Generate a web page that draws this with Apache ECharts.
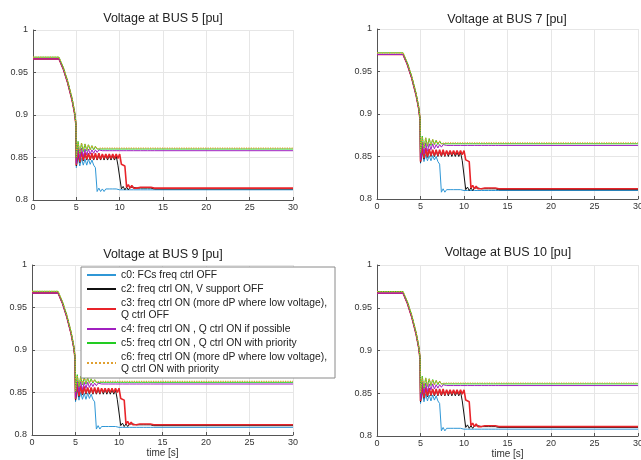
<!DOCTYPE html>
<html>
<head>
<meta charset="utf-8">
<script src="https://cdn.jsdelivr.net/npm/echarts@6/dist/echarts.min.js"></script>
<style>
html,body{margin:0;padding:0;background:#fff;}
#chart{width:641px;height:460px;}
</style>
</head>
<body>
<div id="chart"></div>
<script>
// time axis [s]
const T = [0,3,3.5,4,4.5,4.8,4.95,
5,5.2,5.4,5.6,5.8,6,6.2,6.4,6.6,6.8,
7,7.2,7.4,7.6,7.8,8,8.2,8.4,8.6,8.8,
9,9.2,9.4,9.6,9.8,10,10.2,10.4,10.6,10.8,
11,11.2,11.4,11.6,11.8,12,12.2,12.4,12.6,12.8,
13,13.2,13.4,13.6,13.8,14,
30];

const TITLES = ['Voltage at BUS 5 [pu]','Voltage at BUS 7 [pu]','Voltage at BUS 9 [pu]','Voltage at BUS 10 [pu]'];
const NAMES = [
 'c0: FCs freq ctrl OFF',
 'c2: freq ctrl ON, V support OFF',
 'c3: freq ctrl ON (more dP where low voltage),\nQ ctrl OFF',
 'c4: freq ctrl ON , Q ctrl ON if possible',
 'c5: freq ctrl ON , Q ctrl ON with priority',
 'c6: freq ctrl ON (more dP where low voltage),\nQ ctrl ON with priority'
];
const X_TICKS = [0,5,10,15,20,25,30];
const Y_TICKS = [0.8,0.85,0.9,0.95,1];

// ---------------- BUS 5 ----------------
const v5_c0 = [0.966,0.966,0.954,0.938,0.918,0.902,0.889,
0.838,0.851,0.840,0.849,0.841,0.848,0.841,0.848,0.842,0.847,
0.841,0.838,0.810,0.814,0.810,0.813,0.810,0.813,0.811,0.813,
0.811,0.813,0.811,0.813,0.811,0.812,0.812,0.812,0.812,0.812,
0.812,0.812,0.812,0.812,0.812,0.812,0.812,0.812,0.812,0.812,
0.812,0.812,0.812,0.812,0.812,0.812,
0.812];
const v5_c2 = [0.966,0.966,0.954,0.938,0.918,0.902,0.889,
0.840,0.857,0.844,0.856,0.846,0.855,0.847,0.854,0.847,0.854,
0.847,0.853,0.847,0.853,0.847,0.853,0.847,0.853,0.847,0.852,
0.847,0.852,0.847,0.852,0.841,0.840,0.813,0.816,0.812,0.815,
0.812,0.815,0.813,0.815,0.813,0.814,0.813,0.814,0.813,0.814,
0.813,0.814,0.813,0.814,0.813,0.813,
0.813];
const v5_c3 = [0.966,0.966,0.954,0.938,0.918,0.902,0.889,
0.841,0.859,0.845,0.857,0.847,0.856,0.848,0.855,0.848,0.855,
0.848,0.855,0.848,0.855,0.848,0.854,0.849,0.854,0.849,0.854,
0.849,0.854,0.849,0.854,0.849,0.854,0.842,0.843,0.840,0.815,
0.818,0.814,0.817,0.814,0.816,0.814,0.816,0.815,0.814,0.815,
0.814,0.815,0.814,0.815,0.814,0.814,
0.814];
const v5_c4 = [0.966,0.966,0.954,0.938,0.918,0.902,0.889,
0.843,0.862,0.849,0.861,0.851,0.860,0.853,0.860,0.854,0.859,
0.855,0.859,0.856,0.859,0.857,0.858,0.857,0.858,0.858,0.858,
0.858,0.858,0.858,0.858,0.858,0.858,0.858,0.858,0.858,0.858,
0.858,0.858,0.858,0.858,0.858,0.858,0.858,0.858,0.858,0.858,
0.858,0.858,0.858,0.858,0.858,0.858,
0.858];
const v5_c5 = [0.968,0.968,0.956,0.940,0.920,0.904,0.891,
0.850,0.869,0.855,0.867,0.857,0.866,0.858,0.865,0.859,0.864,
0.859,0.863,0.860,0.862,0.860,0.862,0.860,0.861,0.860,0.861,
0.860,0.860,0.860,0.860,0.860,0.860,0.860,0.860,0.860,0.860,
0.860,0.860,0.860,0.860,0.860,0.860,0.860,0.860,0.860,0.860,
0.860,0.860,0.860,0.860,0.860,0.860,
0.860];
const v5_c6 = [0.968,0.968,0.956,0.940,0.920,0.904,0.891,
0.851,0.868,0.856,0.867,0.858,0.866,0.859,0.865,0.859,0.864,
0.860,0.863,0.860,0.862,0.861,0.862,0.861,0.862,0.861,0.861,
0.861,0.861,0.861,0.861,0.861,0.861,0.861,0.861,0.861,0.861,
0.861,0.861,0.861,0.861,0.861,0.861,0.861,0.861,0.861,0.861,
0.861,0.861,0.861,0.861,0.861,0.861,
0.861];

// ---------------- BUS 7 ----------------
const v7_c0 = [0.970,0.970,0.958,0.942,0.922,0.906,0.893,
0.842,0.854,0.844,0.852,0.845,0.851,0.845,0.851,0.846,0.850,
0.844,0.841,0.808,0.812,0.808,0.811,0.809,0.811,0.809,0.811,
0.809,0.811,0.809,0.811,0.809,0.810,0.810,0.810,0.810,0.810,
0.810,0.810,0.810,0.810,0.810,0.810,0.810,0.810,0.810,0.810,
0.810,0.810,0.810,0.810,0.810,0.810,
0.810];
const v7_c2 = [0.970,0.970,0.958,0.942,0.922,0.906,0.893,
0.843,0.860,0.847,0.859,0.849,0.858,0.850,0.857,0.850,0.857,
0.850,0.856,0.850,0.856,0.850,0.856,0.850,0.856,0.850,0.855,
0.850,0.855,0.850,0.855,0.845,0.844,0.811,0.814,0.810,0.813,
0.810,0.813,0.811,0.813,0.811,0.812,0.811,0.812,0.811,0.812,
0.811,0.812,0.811,0.812,0.811,0.811,
0.811];
const v7_c3 = [0.970,0.970,0.958,0.942,0.922,0.906,0.893,
0.844,0.862,0.848,0.860,0.850,0.859,0.851,0.858,0.851,0.858,
0.851,0.858,0.851,0.858,0.851,0.857,0.852,0.857,0.852,0.857,
0.852,0.857,0.852,0.857,0.852,0.857,0.846,0.847,0.844,0.813,
0.816,0.812,0.815,0.812,0.814,0.812,0.814,0.813,0.812,0.813,
0.812,0.813,0.812,0.813,0.812,0.812,
0.812];
const v7_c4 = [0.970,0.970,0.958,0.942,0.922,0.906,0.893,
0.846,0.867,0.853,0.866,0.856,0.865,0.858,0.865,0.859,0.864,
0.860,0.864,0.861,0.864,0.862,0.863,0.862,0.863,0.863,0.863,
0.863,0.863,0.863,0.863,0.863,0.863,0.863,0.863,0.863,0.863,
0.863,0.863,0.863,0.863,0.863,0.863,0.863,0.863,0.863,0.863,
0.863,0.863,0.863,0.863,0.863,0.863,
0.863];
const v7_c5 = [0.972,0.972,0.960,0.944,0.924,0.908,0.895,
0.854,0.874,0.860,0.872,0.862,0.871,0.863,0.870,0.864,0.869,
0.864,0.868,0.865,0.867,0.865,0.867,0.865,0.866,0.865,0.866,
0.865,0.865,0.865,0.865,0.865,0.865,0.865,0.865,0.865,0.865,
0.865,0.865,0.865,0.865,0.865,0.865,0.865,0.865,0.865,0.865,
0.865,0.865,0.865,0.865,0.865,0.865,
0.865];
const v7_c6 = [0.972,0.972,0.960,0.944,0.924,0.908,0.895,
0.855,0.873,0.861,0.872,0.863,0.871,0.864,0.870,0.864,0.869,
0.865,0.868,0.865,0.867,0.866,0.867,0.866,0.867,0.866,0.866,
0.866,0.866,0.866,0.866,0.866,0.866,0.866,0.866,0.866,0.866,
0.866,0.866,0.866,0.866,0.866,0.866,0.866,0.866,0.866,0.866,
0.866,0.866,0.866,0.866,0.866,0.866,
0.866];

// ---------------- BUS 9 ----------------
const v9_c0 = [0.967,0.967,0.955,0.939,0.919,0.903,0.890,
0.839,0.852,0.841,0.850,0.842,0.849,0.842,0.849,0.843,0.848,
0.842,0.839,0.807,0.811,0.807,0.810,0.808,0.810,0.808,0.810,
0.808,0.810,0.808,0.810,0.808,0.809,0.809,0.809,0.809,0.809,
0.809,0.809,0.809,0.809,0.809,0.809,0.809,0.809,0.809,0.809,
0.809,0.809,0.809,0.809,0.809,0.809,
0.809];
const v9_c2 = [0.967,0.967,0.955,0.939,0.919,0.903,0.890,
0.841,0.858,0.845,0.857,0.847,0.856,0.848,0.855,0.848,0.855,
0.848,0.854,0.848,0.854,0.848,0.854,0.848,0.854,0.848,0.853,
0.848,0.853,0.848,0.853,0.842,0.841,0.811,0.814,0.810,0.813,
0.810,0.813,0.811,0.813,0.811,0.812,0.811,0.812,0.811,0.812,
0.811,0.812,0.811,0.812,0.811,0.811,
0.811];
const v9_c3 = [0.967,0.967,0.955,0.939,0.919,0.903,0.890,
0.842,0.860,0.846,0.858,0.848,0.857,0.849,0.856,0.849,0.856,
0.849,0.856,0.849,0.856,0.849,0.855,0.850,0.855,0.850,0.855,
0.850,0.855,0.850,0.855,0.850,0.855,0.843,0.844,0.841,0.813,
0.816,0.812,0.815,0.812,0.814,0.812,0.814,0.813,0.812,0.813,
0.812,0.813,0.812,0.813,0.812,0.812,
0.812];
const v9_c4 = [0.967,0.967,0.955,0.939,0.919,0.903,0.890,
0.844,0.864,0.851,0.863,0.853,0.862,0.855,0.862,0.856,0.861,
0.857,0.861,0.858,0.861,0.859,0.860,0.859,0.860,0.860,0.860,
0.860,0.860,0.860,0.860,0.860,0.860,0.860,0.860,0.860,0.860,
0.860,0.860,0.860,0.860,0.860,0.860,0.860,0.860,0.860,0.860,
0.860,0.860,0.860,0.860,0.860,0.860,
0.860];
const v9_c5 = [0.969,0.969,0.957,0.941,0.921,0.905,0.892,
0.851,0.871,0.857,0.869,0.859,0.868,0.860,0.867,0.861,0.866,
0.861,0.865,0.862,0.864,0.862,0.864,0.862,0.863,0.862,0.863,
0.862,0.862,0.862,0.862,0.862,0.862,0.862,0.862,0.862,0.862,
0.862,0.862,0.862,0.862,0.862,0.862,0.862,0.862,0.862,0.862,
0.862,0.862,0.862,0.862,0.862,0.862,
0.862];
const v9_c6 = [0.969,0.969,0.957,0.941,0.921,0.905,0.892,
0.852,0.870,0.858,0.869,0.860,0.868,0.861,0.867,0.861,0.866,
0.862,0.865,0.862,0.864,0.863,0.864,0.863,0.864,0.863,0.863,
0.863,0.863,0.863,0.863,0.863,0.863,0.863,0.863,0.863,0.863,
0.863,0.863,0.863,0.863,0.863,0.863,0.863,0.863,0.863,0.863,
0.863,0.863,0.863,0.863,0.863,0.863,
0.863];

// ---------------- BUS 10 ----------------
const v10_c0 = [0.967,0.967,0.955,0.939,0.919,0.903,0.890,
0.838,0.851,0.840,0.849,0.841,0.848,0.841,0.848,0.842,0.847,
0.841,0.838,0.806,0.810,0.806,0.809,0.807,0.809,0.807,0.809,
0.807,0.809,0.807,0.809,0.807,0.808,0.808,0.808,0.808,0.808,
0.808,0.808,0.808,0.808,0.808,0.808,0.808,0.808,0.808,0.808,
0.808,0.808,0.808,0.808,0.808,0.808,
0.808];
const v10_c2 = [0.967,0.967,0.955,0.939,0.919,0.903,0.890,
0.840,0.857,0.844,0.856,0.846,0.855,0.847,0.854,0.847,0.854,
0.847,0.853,0.847,0.853,0.847,0.853,0.847,0.853,0.847,0.852,
0.847,0.852,0.847,0.852,0.841,0.840,0.810,0.813,0.809,0.812,
0.809,0.812,0.810,0.812,0.810,0.811,0.810,0.811,0.810,0.811,
0.810,0.811,0.810,0.811,0.810,0.810,
0.810];
const v10_c3 = [0.967,0.967,0.955,0.939,0.919,0.903,0.890,
0.841,0.859,0.845,0.857,0.847,0.856,0.848,0.855,0.848,0.855,
0.848,0.855,0.848,0.855,0.848,0.854,0.849,0.854,0.849,0.854,
0.849,0.854,0.849,0.854,0.849,0.854,0.842,0.843,0.840,0.812,
0.815,0.811,0.814,0.811,0.813,0.811,0.813,0.812,0.811,0.812,
0.811,0.812,0.811,0.812,0.811,0.811,
0.811];
const v10_c4 = [0.967,0.967,0.955,0.939,0.919,0.903,0.890,
0.843,0.863,0.850,0.862,0.852,0.861,0.854,0.861,0.855,0.860,
0.856,0.860,0.857,0.860,0.858,0.859,0.858,0.859,0.859,0.859,
0.859,0.859,0.859,0.859,0.859,0.859,0.859,0.859,0.859,0.859,
0.859,0.859,0.859,0.859,0.859,0.859,0.859,0.859,0.859,0.859,
0.859,0.859,0.859,0.859,0.859,0.859,
0.859];
const v10_c5 = [0.969,0.969,0.957,0.941,0.921,0.905,0.892,
0.850,0.870,0.856,0.868,0.858,0.867,0.859,0.866,0.860,0.865,
0.860,0.864,0.861,0.863,0.861,0.863,0.861,0.862,0.861,0.862,
0.861,0.861,0.861,0.861,0.861,0.861,0.861,0.861,0.861,0.861,
0.861,0.861,0.861,0.861,0.861,0.861,0.861,0.861,0.861,0.861,
0.861,0.861,0.861,0.861,0.861,0.861,
0.861];
const v10_c6 = [0.969,0.969,0.957,0.941,0.921,0.905,0.892,
0.851,0.869,0.857,0.868,0.859,0.867,0.860,0.866,0.860,0.865,
0.861,0.864,0.861,0.863,0.862,0.863,0.862,0.863,0.862,0.862,
0.862,0.862,0.862,0.862,0.862,0.862,0.862,0.862,0.862,0.862,
0.862,0.862,0.862,0.862,0.862,0.862,0.862,0.862,0.862,0.862,
0.862,0.862,0.862,0.862,0.862,0.862,
0.862];

const BUS5 = [v5_c0,v5_c2,v5_c3,v5_c4,v5_c5,v5_c6];
const BUS7 = [v7_c0,v7_c2,v7_c3,v7_c4,v7_c5,v7_c6];
const BUS9 = [v9_c0,v9_c2,v9_c3,v9_c4,v9_c5,v9_c6];
const BUS10 = [v10_c0,v10_c2,v10_c3,v10_c4,v10_c5,v10_c6];
const ALL = [BUS5,BUS7,BUS9,BUS10];

// ---------------- styles ----------------
const FONT = 'Liberation Sans, Arial, sans-serif';
const COLORS = ['#2f97d6','#111111','#e8242a','#a020c0','#22cc22','#e0a030'];
const WIDTHS = [1,1,1.6,1,1,1.2];
const TYPES = ['solid','solid','solid','solid','solid','dotted'];
const GRIDS = [
  {left:33, top:30, width:260, height:170},
  {left:377, top:29, width:261, height:170},
  {left:32, top:265, width:261, height:170},
  {left:377, top:265, width:261, height:171}
];
const TITLE_POS = [[163,12],[507,13],[163,248],[508,246]];

const grid = GRIDS.map(g => Object.assign({outerBoundsMode:'none', containLabel:false}, g));
const title = TITLES.map((t,i) => ({
  text: t, left: TITLE_POS[i][0], top: TITLE_POS[i][1], textAlign: 'center', padding: 0,
  textStyle: {fontFamily: FONT, fontSize: 12.5, fontWeight: 'normal', color: '#222'}
}));
const axisCommon = {
  axisLine: {show: true, onZero: false, lineStyle: {color: '#555', width: 1}},
  axisTick: {show: true, inside: true, length: 3, lineStyle: {color: '#555'}},
  splitLine: {show: true, lineStyle: {color: '#e6e6e6', width: 1}},
  axisLabel: {fontFamily: FONT, fontSize: 9, color: '#333'}
};
const xAxis = GRIDS.map((g,i) => Object.assign({}, axisCommon, {
  type: 'value', gridIndex: i, min: X_TICKS[0], max: X_TICKS[X_TICKS.length-1], interval: X_TICKS[1]-X_TICKS[0],
  axisLabel: Object.assign({}, axisCommon.axisLabel, {margin: 3, showMaxLabel: true, showMinLabel: true}),
  name: i >= 2 ? 'time [s]' : '', nameLocation: 'middle', nameGap: 13,
  nameTextStyle: {fontFamily: FONT, fontSize: 10, color: '#333'}
}));
const yAxis = GRIDS.map((g,i) => Object.assign({}, axisCommon, {
  type: 'value', gridIndex: i, min: Y_TICKS[0], max: Y_TICKS[Y_TICKS.length-1], interval: 0.05,
  axisLabel: Object.assign({}, axisCommon.axisLabel, {margin: 5, showMaxLabel: true, showMinLabel: true})
}));

const series = [];
ALL.forEach((bus, gi) => {
  bus.forEach((vals, j) => {
    series.push({
      type: 'line', name: NAMES[j], xAxisIndex: gi, yAxisIndex: gi,
      data: T.map((t,k) => [t, vals[k]]),
      symbol: 'none', showSymbol: false, animation: false, silent: true,
      lineStyle: {color: COLORS[j], width: WIDTHS[j], type: TYPES[j]},
      itemStyle: {color: COLORS[j]}
    });
  });
});

const chart = echarts.init(document.getElementById('chart'), null, {renderer: 'canvas'});
chart.setOption({
  backgroundColor: '#fff',
  animation: false,
  title: title,
  grid: grid,
  xAxis: xAxis,
  yAxis: yAxis,
  legend: {
    data: NAMES, orient: 'vertical', left: 81, top: 267,
    itemWidth: 29, itemHeight: 10, itemGap: 2, selectedMode: false,
    padding: [2, 8, 3, 5],
    itemStyle: {opacity: 0},
    backgroundColor: '#fff', borderColor: '#8a8a8a', borderWidth: 1, borderRadius: 0,
    textStyle: {fontFamily: FONT, fontSize: 10.3, color: '#222', lineHeight: 12}
  },
  series: series
});
</script>
</body>
</html>
